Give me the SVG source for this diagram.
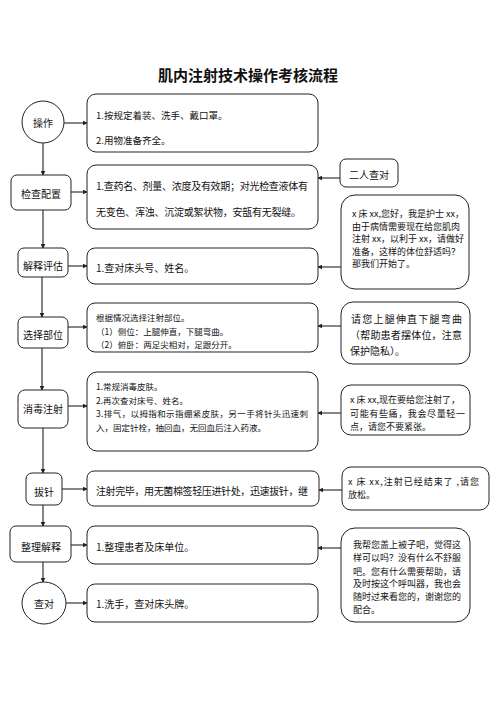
<svg xmlns="http://www.w3.org/2000/svg" width="496" height="702" viewBox="0 0 496 702">
<defs>
<style>
text{font-family:"Noto Sans CJK SC","Noto Sans",sans-serif;fill:#111;dominant-baseline:central}
.box{fill:#fff;stroke:#222;stroke-width:1}
.t10{font-size:10px}
.t95{font-size:9.5px}
.t9{font-size:9px}
.t85{font-size:8.5px}
.lab{font-size:10px;text-anchor:middle}
.title{font-size:15px;font-weight:bold;text-anchor:middle}
.c{fill:none;stroke:#444;stroke-width:1.3;marker-end:url(#ah)}
</style>
<marker id="ah" viewBox="0 0 8 8" refX="7" refY="4" markerWidth="5" markerHeight="5" orient="auto" markerUnits="userSpaceOnUse">
<path d="M0,0 L8,4 L0,8 z" fill="#222"/>
</marker>
</defs>
<rect width="496" height="702" fill="#fff"/>
<text class="title" x="248" y="74">肌内注射技术操作考核流程</text>

<g id="connectors">
<line class="c" x1="43" y1="143" x2="43" y2="175"/>
<line class="c" x1="43" y1="210" x2="43" y2="248"/>
<line class="c" x1="42" y1="277" x2="42" y2="317"/>
<line class="c" x1="42" y1="348" x2="42" y2="390"/>
<line class="c" x1="43" y1="428" x2="43" y2="473"/>
<line class="c" x1="43" y1="505" x2="43" y2="526"/>
<line class="c" x1="43" y1="562" x2="43" y2="582"/>
<line class="c" x1="64" y1="123" x2="87" y2="123"/>
<line class="c" x1="71" y1="192" x2="87" y2="192"/>
<line class="c" x1="68" y1="266" x2="87" y2="266"/>
<line class="c" x1="68" y1="327" x2="87" y2="327"/>
<line class="c" x1="68" y1="406" x2="87" y2="406"/>
<line class="c" x1="62" y1="489" x2="87" y2="489"/>
<line class="c" x1="71" y1="545" x2="87" y2="545"/>
<line class="c" x1="66" y1="603" x2="87" y2="603"/>
<line class="c" x1="340" y1="178" x2="318" y2="178"/>
<line class="c" x1="341" y1="267" x2="318" y2="267"/>
<line class="c" x1="341" y1="326" x2="318" y2="326"/>
<line class="c" x1="341" y1="413" x2="318" y2="413"/>
<line class="c" x1="342" y1="490" x2="319" y2="490"/>
<line class="c" x1="341" y1="548" x2="318" y2="548"/>
</g>

<g id="n-caozuo"><circle class="box" cx="43" cy="122" r="21"/><text class="lab" x="43" y="122">操作</text></g>
<g id="n-jiancha"><rect class="box" x="11" y="175" width="60" height="35" rx="6"/><text class="lab" x="41" y="193">检查配置</text></g>
<g id="n-jieshi"><rect class="box" x="18" y="248" width="50" height="29" rx="6"/><text class="lab" x="43" y="265">解释评估</text></g>
<g id="n-xuanze"><rect class="box" x="18" y="317" width="50" height="31" rx="6"/><text class="lab" x="43" y="334">选择部位</text></g>
<g id="n-xiaodu"><rect class="box" x="18" y="390" width="50" height="38" rx="7"/><text class="lab" x="43" y="408">消毒注射</text></g>
<g id="n-bazhen"><rect class="box" x="26" y="473" width="36" height="32" rx="6"/><text class="lab" x="44" y="491">拔针</text></g>
<g id="n-zhengli"><rect class="box" x="10" y="526" width="61" height="36" rx="6"/><text class="lab" x="41" y="546">整理解释</text></g>
<g id="n-chadui"><ellipse class="box" cx="44" cy="603" rx="22" ry="21"/><text class="lab" x="44" y="603">查对</text></g>

<g id="b1"><rect class="box" x="87" y="94" width="231" height="58" rx="9"/>
<text class="t95" x="96" y="115">1.按规定着装、洗手、戴口罩。</text>
<text class="t95" x="96" y="140">2.用物准备齐全。</text></g>
<g id="b2"><rect class="box" x="87" y="165" width="231" height="64" rx="9"/>
<text class="t10" x="96" y="185" textLength="212">1.查药名、剂量、浓度及有效期；对光检查液体有</text>
<text class="t10" x="96" y="211" textLength="205">无变色、浑浊、沉淀或絮状物，安瓿有无裂缝。</text></g>
<g id="b3"><rect class="box" x="87" y="248" width="231" height="36" rx="8"/>
<text class="t10" x="96" y="267">1.查对床头号、姓名。</text></g>
<g id="b4"><rect class="box" x="87" y="303" width="231" height="49" rx="8"/>
<text class="t85" x="96" y="317">根据情况选择注射部位。</text>
<text class="t85" x="96" y="331">（1）侧位：上腿伸直，下腿弯曲。</text>
<text class="t85" x="96" y="344">（2）俯卧：两足尖相对，足跟分开。</text></g>
<g id="b5"><rect class="box" x="87" y="372" width="231" height="79" rx="10"/>
<text class="t85" x="96" y="386">1.常规消毒皮肤。</text>
<text class="t85" x="96" y="400">2.再次查对床号、姓名。</text>
<text class="t85" x="96" y="413" textLength="212">3.排气，以拇指和示指绷紧皮肤，另一手将针头迅速刺</text>
<text class="t85" x="96" y="427">入，固定针栓，抽回血，无回血后注入药液。</text></g>
<g id="b6"><rect class="box" x="87" y="471" width="232" height="35" rx="7"/>
<text class="t10" x="96" y="490" textLength="212">注射完毕，用无菌棉签轻压进针处，迅速拔针，继</text></g>
<g id="b7"><rect class="box" x="87" y="526" width="231" height="38" rx="8"/>
<text class="t10" x="96" y="546">1.整理患者及床单位。</text></g>
<g id="b8"><rect class="box" x="87" y="584" width="231" height="38" rx="8"/>
<text class="t10" x="96" y="603">1.洗手，查对床头牌。</text></g>

<g id="s0"><rect class="box" x="340" y="159" width="58" height="28" rx="6"/><text class="lab" x="369" y="174">二人查对</text></g>
<g id="s1"><rect class="box" x="341" y="195" width="128" height="94" rx="14"/>
<text class="t9" x="352" y="213">x 床 xx,您好，我是护士 xx，</text>
<text class="t9" x="352" y="226">由于病情需要现在给您肌肉</text>
<text class="t9" x="352" y="238">注射 xx，以利于 xx，请做好</text>
<text class="t9" x="352" y="251">准备，这样的体位舒适吗？</text>
<text class="t9" x="352" y="263">那我们开始了。</text></g>
<g id="s2"><rect class="box" x="341" y="302" width="129" height="62" rx="12"/>
<text class="t10" x="351" y="318" textLength="111">请您上腿伸直下腿弯曲</text>
<text class="t10" x="350" y="334" textLength="112">（帮助患者摆体位，注意</text>
<text class="t10" x="350" y="350">保护隐私）。</text></g>
<g id="s3"><rect class="box" x="341" y="385" width="129" height="50" rx="10"/>
<text class="t9" x="350" y="399">x  床  xx,现在要给您注射了，</text>
<text class="t9" x="350" y="413" textLength="115">可能有些痛，我会尽量轻一</text>
<text class="t9" x="350" y="426">点，请您不要紧张。</text></g>
<g id="s4"><rect class="box" x="342" y="467" width="147" height="43" rx="9"/>
<text class="t9" x="348" y="481" textLength="131">x 床 xx,注射已经结束了 ,请您</text>
<text class="t9" x="348" y="494">放松。</text></g>
<g id="s5"><rect class="box" x="341" y="528" width="129" height="94" rx="14"/>
<text class="t9" x="353" y="544">我帮您盖上被子吧，觉得这</text>
<text class="t9" x="353" y="557">样可以吗？没有什么不舒服</text>
<text class="t9" x="353" y="571">吧。您有什么需要帮助，请</text>
<text class="t9" x="353" y="583">及时按这个呼叫器，我也会</text>
<text class="t9" x="353" y="596">随时过来看您的，谢谢您的</text>
<text class="t9" x="353" y="609">配合。</text></g>
</svg>
